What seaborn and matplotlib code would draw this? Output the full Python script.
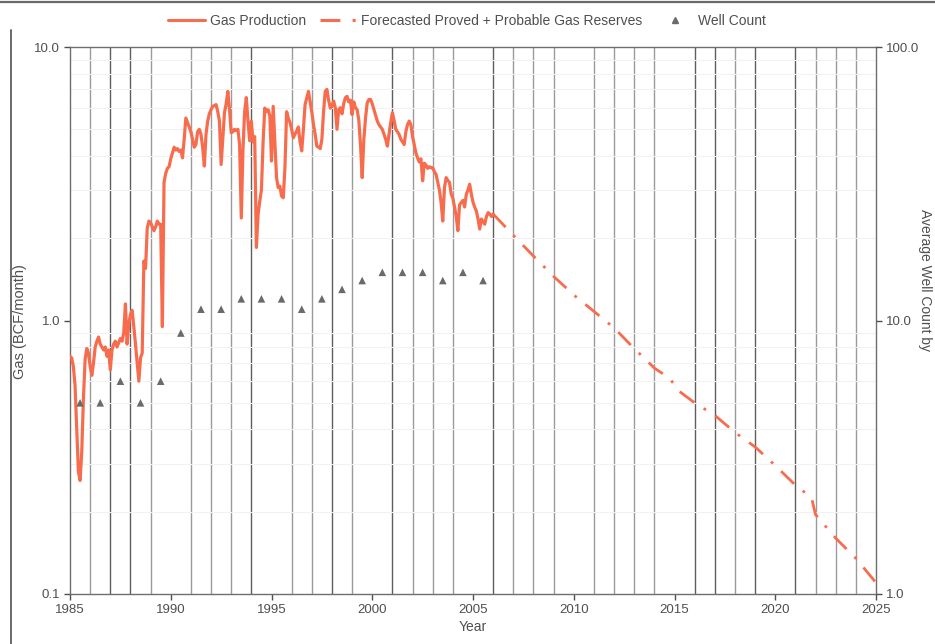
import numpy as np
import pandas as pd
import matplotlib
matplotlib.use("Agg")
import matplotlib.pyplot as plt
import seaborn as sns
from matplotlib.lines import Line2D
from matplotlib.ticker import FixedLocator, FixedFormatter, NullFormatter

# Monthly gas production (BCF/month), one row of 12 months per year, 1985-2005
gas_1985 = [0.74, 0.73, 0.68, 0.58, 0.40, 0.28, 0.26, 0.33, 0.52, 0.72, 0.79, 0.76]
gas_1986 = [0.68, 0.63, 0.70, 0.80, 0.84, 0.87, 0.82, 0.80, 0.78, 0.80, 0.74, 0.78]
gas_1987 = [0.66, 0.78, 0.82, 0.84, 0.80, 0.83, 0.86, 0.84, 0.90, 1.15, 0.82, 0.97]
gas_1988 = [1.05, 1.09, 0.95, 0.82, 0.70, 0.60, 0.73, 0.76, 1.65, 1.55, 2.18, 2.31]
gas_1989 = [2.28, 2.20, 2.13, 2.20, 2.31, 2.25, 2.25, 0.95, 3.20, 3.45, 3.60, 3.65]
gas_1990 = [3.90, 4.10, 4.30, 4.20, 4.25, 4.15, 4.20, 3.93, 4.60, 5.50, 5.30, 5.10]
gas_1991 = [4.90, 4.60, 4.30, 4.40, 4.90, 5.00, 4.80, 4.30, 3.67, 4.80, 5.36, 5.70]
gas_1992 = [5.90, 6.07, 6.10, 6.16, 5.80, 5.36, 3.72, 4.60, 5.75, 6.20, 6.88, 5.90]
gas_1993 = [4.86, 4.90, 5.00, 4.95, 5.00, 4.40, 2.37, 4.20, 5.80, 6.53, 5.36, 4.54]
gas_1994 = [5.36, 4.50, 4.70, 1.85, 2.44, 2.73, 3.00, 4.50, 5.98, 5.80, 5.90, 5.60]
gas_1995 = [3.83, 6.07, 4.50, 3.33, 3.06, 3.10, 2.85, 2.81, 3.62, 5.80, 5.50, 5.30]
gas_1996 = [5.00, 4.66, 4.80, 4.93, 5.10, 4.50, 4.17, 5.00, 6.16, 6.50, 6.88, 6.30]
gas_1997 = [5.80, 5.20, 4.80, 4.34, 4.30, 4.25, 4.60, 5.80, 6.88, 7.00, 6.40, 5.98]
gas_1998 = [6.10, 6.34, 6.00, 5.00, 5.90, 6.00, 5.70, 6.20, 6.53, 6.60, 6.30, 6.40]
gas_1999 = [5.66, 6.30, 6.00, 5.90, 5.40, 4.40, 3.33, 4.60, 5.50, 6.25, 6.43, 6.43]
gas_2000 = [6.20, 5.90, 5.60, 5.36, 5.20, 5.10, 5.00, 4.80, 4.60, 4.34, 4.80, 5.30]
gas_2001 = [5.75, 5.40, 5.00, 4.90, 4.79, 4.60, 4.50, 4.40, 4.90, 5.20, 5.36, 5.20]
gas_2002 = [4.70, 4.40, 4.10, 3.93, 3.80, 3.90, 3.24, 3.76, 3.70, 3.60, 3.65, 3.62]
gas_2003 = [3.62, 3.50, 3.42, 3.20, 3.00, 2.70, 2.31, 3.06, 3.33, 3.25, 3.20, 2.90]
gas_2004 = [2.80, 2.60, 2.40, 2.13, 2.65, 2.70, 2.75, 2.60, 2.89, 3.00, 3.15, 2.90]
gas_2005 = [2.71, 2.60, 2.51, 2.35, 2.16, 2.35, 2.30, 2.25, 2.40, 2.48, 2.45, 2.40]
gas_2006 = [2.45]

gas_rows = [gas_1985, gas_1986, gas_1987, gas_1988, gas_1989, gas_1990, gas_1991,
            gas_1992, gas_1993, gas_1994, gas_1995, gas_1996, gas_1997, gas_1998,
            gas_1999, gas_2000, gas_2001, gas_2002, gas_2003, gas_2004, gas_2005,
            gas_2006]

# Forecasted proved + probable reserves decline (BCF/month)
forecast_years = [2006.0, 2007, 2008, 2009, 2010, 2011, 2012, 2013, 2014, 2014.75,
                  2015.25, 2016, 2017, 2018, 2019, 2020, 2021, 2021.8, 2022.0,
                  2023, 2024, 2025]
forecast_gas = [2.45, 2.05, 1.72, 1.45, 1.24, 1.08, 0.94, 0.79, 0.67, 0.615,
                0.55, 0.50, 0.45, 0.39, 0.345, 0.295, 0.25, 0.225, 0.195,
                0.16, 0.135, 0.11]

# Average well count by year
well_years = [1985.5, 1986.5, 1987.5, 1988.5, 1989.5, 1990.5, 1991.5, 1992.5,
              1993.5, 1994.5, 1995.5, 1996.5, 1997.5, 1998.5, 1999.5, 2000.5,
              2001.5, 2002.5, 2003.5, 2004.5, 2005.5]
well_counts = [5, 5, 6, 5, 6, 9, 11, 11, 12, 12, 12, 11, 12, 13, 14, 15,
               15, 15, 14, 15, 14]

year_ticks = [1985, 1990, 1995, 2000, 2005, 2010, 2015, 2020, 2025]
gas_ticks = [0.1, 1.0, 10.0]
gas_tick_labels = ["0.1", "1.0", "10.0"]
well_ticks = [1.0, 10.0, 100.0]
well_tick_labels = ["1.0", "10.0", "100.0"]

gas_values = [v for row in gas_rows for v in row]
production = pd.DataFrame({
    "year": 1985 + np.arange(len(gas_values)) / 12.0,
    "gas": gas_values,
})
forecast = pd.DataFrame({"year": forecast_years, "gas": forecast_gas})
wells = pd.DataFrame({"year": well_years, "count": well_counts})

LINE = "#F86C4E"
TRI = "#6A6A6A"
TXT = "#4F4F4F"

sns.set_theme(style="white")
plt.rcParams["font.family"] = ["Liberation Sans", "DejaVu Sans"]

fig = plt.figure(figsize=(9.35, 6.44), dpi=100)
ax = fig.add_axes([70 / 935, 1 - 594 / 644, (876 - 70) / 935, (594 - 47) / 644])

ax.set_yscale("log")
ax.set_xlim(1985, 2025)
ax.set_ylim(0.1, 10)

# yearly vertical gridlines (the five-year marks carry ticks instead)
dark_years = {1987, 1988, 1994, 1998, 2001, 2006, 2016, 2017, 2019, 2021}
for yr in range(1986, 2025):
    if yr % 5 == 0:
        continue
    ax.axvline(yr, color="#5E5E5E" if yr in dark_years else "#9A9A9A",
               lw=1.0, zorder=0)

# faint horizontal minor grid
minor_vals = [m * 10.0 ** e for e in (-1, 0) for m in range(2, 10)]
for v in minor_vals:
    ax.axhline(v, color="#F2F2F2", lw=0.8, zorder=0)

sns.lineplot(data=production, x="year", y="gas", ax=ax, color=LINE, lw=2.3,
             zorder=3)
sns.lineplot(data=forecast, x="year", y="gas", ax=ax, color=LINE, lw=2.0,
             zorder=3)
dashdot = (0, (6.5, 4, 1, 4))
ax.lines[-1].set_linestyle(dashdot)

ax.yaxis.set_major_locator(FixedLocator(gas_ticks))
ax.yaxis.set_major_formatter(FixedFormatter(gas_tick_labels))
ax.yaxis.set_minor_formatter(NullFormatter())
ax.tick_params(axis="y", which="minor", length=0)
ax.set_xticks(year_ticks)
ax.set_xticklabels([str(y) for y in year_ticks])
ax.tick_params(axis="both", which="major", labelsize=9.5, colors=TXT,
               length=4, width=1, direction="out", pad=3)
ax.tick_params(axis="y", which="major", left=True)
ax.tick_params(axis="x", which="major", bottom=True)
ax.set_xlabel("Year", fontsize=10, color=TXT, labelpad=3)
ax.set_ylabel("")

for side in ("left", "right", "top", "bottom"):
    ax.spines[side].set_color("#6E6E6E")
    ax.spines[side].set_linewidth(1.0)

ax2 = ax.twinx()
ax2.set_yscale("log")
ax2.set_ylim(1, 100)
sns.scatterplot(data=wells, x="year", y="count", ax=ax2, marker="^",
                color=TRI, s=30, edgecolor="none", zorder=4)
ax2.yaxis.set_major_locator(FixedLocator(well_ticks))
ax2.yaxis.set_major_formatter(FixedFormatter(well_tick_labels))
ax2.yaxis.set_minor_formatter(NullFormatter())
ax2.tick_params(axis="y", which="minor", length=0)
ax2.tick_params(axis="y", which="major", labelsize=9.5, colors=TXT,
                length=4, width=1, direction="out", right=True, pad=3)
ax2.set_ylabel("")
for side in ("left", "right", "top", "bottom"):
    ax2.spines[side].set_visible(False)

fig.text(20 / 935, 1 - 322 / 644, "Gas (BCF/month)", rotation=90,
         ha="center", va="center", fontsize=10.5, color=TXT)
fig.text(925 / 935, 1 - 280 / 644, "Average Well Count by", rotation=270,
         ha="center", va="center", fontsize=10, color=TXT)

handles = [
    Line2D([], [], color=LINE, lw=2.2),
    Line2D([], [], color=LINE, lw=2.2, linestyle=dashdot),
    Line2D([], [], color=TRI, marker="^", markersize=5, linestyle="none"),
]
labels = ["Gas Production", "Forecasted Proved + Probable Gas Reserves",
          "Well Count"]
fig.legend(handles, labels, loc="center", bbox_to_anchor=(467 / 935, 1 - 21 / 644),
           ncol=3, frameon=False, fontsize=10, handlelength=2.65,
           handletextpad=0.35, columnspacing=1.0, labelcolor=TXT)

# page border lines
fig.add_artist(Line2D([0, 1], [1 - 2 / 644, 1 - 2 / 644], color="#6A6A6A",
                      lw=1.6, transform=fig.transFigure))
fig.add_artist(Line2D([11 / 935, 11 / 935], [0, 1 - 30 / 644], color="#6A6A6A",
                      lw=1.4, transform=fig.transFigure))

fig.savefig("out.png", dpi=100)
